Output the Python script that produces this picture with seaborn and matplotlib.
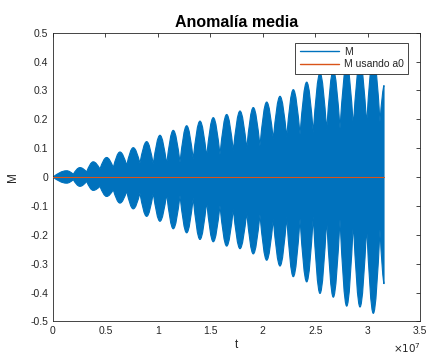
import numpy as np
import pandas as pd
import matplotlib
matplotlib.use("Agg")
import matplotlib.pyplot as plt
import seaborn as sns
from matplotlib.lines import Line2D
from matplotlib.path import Path
from matplotlib.patches import PathPatch

# ---- data (t in units of 1e7 s) ----
# upper envelope: lobe peaks and necks
peak_t = [0.1306, 0.2574, 0.3842, 0.5119, 0.6387, 0.7655, 0.8932, 1.0200,
          1.1468, 1.2745, 1.4013, 1.5281, 1.6559, 1.7827, 1.9094, 2.0372,
          2.1640, 2.2908, 2.4185, 2.5453, 2.6721, 2.7998, 2.9266, 3.0534]
neck_t = [0.194, 0.321, 0.448, 0.575, 0.703, 0.829, 0.956, 1.084,
          1.211, 1.337, 1.465, 1.592, 1.719, 1.847, 1.973, 2.100,
          2.228, 2.355, 2.481, 2.609, 2.736, 2.863, 2.990, 3.117]
upper_peak = [0.022, 0.033, 0.053, 0.068, 0.087, 0.102, 0.123, 0.145,
              0.162, 0.178, 0.194, 0.206, 0.217, 0.229, 0.241, 0.260,
              0.280, 0.303, 0.329, 0.360, 0.370, 0.390, 0.400, 0.420]
upper_neck = [0.010, 0.018, 0.028, 0.033, 0.041, 0.048, 0.045, 0.045,
              0.051, 0.062, 0.071, 0.078, 0.091, 0.099, 0.108, 0.131,
              0.139, 0.148, 0.154, 0.162, 0.169, 0.177, 0.183, 0.192]
lower_peak = [-0.021, -0.032, -0.046, -0.067, -0.090, -0.110, -0.136, -0.153,
              -0.179, -0.193, -0.216, -0.224, -0.239, -0.248, -0.266, -0.288,
              -0.308, -0.345, -0.363, -0.403, -0.416, -0.447, -0.450, -0.472]
lower_neck = [-0.009, -0.015, -0.032, -0.044, -0.049, -0.055, -0.055, -0.058,
              -0.064, -0.072, -0.084, -0.099, -0.110, -0.122, -0.130, -0.145,
              -0.138, -0.145, -0.136, -0.145, -0.147, -0.156, -0.170, -0.182]
t_end = 3.1554
upper_end = 0.317
lower_end = -0.369
a0_t = [0.0, t_end]
a0_M = [0.0, 0.0]


def lobe_path(peaks_t, peaks, necks_t, necks, end_v):
    """Outline through the read necks and peaks: sine-like humps
    (cubic Bezier segments) with cusps at the necks."""
    verts = [(0.0, 0.0)]
    codes = [Path.MOVETO]
    prev_t, prev_v = 0.0, 0.0
    for pt, pv, nt, nv in zip(peaks_t, peaks, necks_t, necks):
        d1 = pt - prev_t
        verts += [(prev_t + 0.326 * d1, prev_v + 0.5236 * (pv - prev_v)),
                  (pt - 0.362 * d1, pv), (pt, pv)]
        codes += [Path.CURVE4] * 3
        d2 = nt - pt
        verts += [(pt + 0.362 * d2, pv),
                  (nt - 0.326 * d2, nv + 0.5236 * (pv - nv)), (nt, nv)]
        codes += [Path.CURVE4] * 3
        prev_t, prev_v = nt, nv
    d = t_end - prev_t
    verts += [(prev_t + 0.326 * d, prev_v + 0.5236 * (end_v - prev_v)),
              (t_end - 0.2 * d, end_v), (t_end, end_v)]
    codes += [Path.CURVE4] * 3
    return verts, codes


uverts, ucodes = lobe_path(peak_t, upper_peak, neck_t, upper_neck, upper_end)
lverts, lcodes = lobe_path(peak_t, lower_peak, neck_t, lower_neck, lower_end)

# closed outline: upper forward, then lower backward
rev = lverts[::-1]
verts = uverts + [rev[0]]
codes = ucodes + [Path.LINETO]
verts += rev[1:]
codes += [Path.CURVE4] * (len(rev) - 1)
verts.append((0.0, 0.0))
codes.append(Path.CLOSEPOLY)

sns.set_style("white")
plt.rcParams['font.family'] = ['Liberation Sans', 'DejaVu Sans']
plt.rcParams['axes.unicode_minus'] = False

blue = '#0072BD'
orange = '#D95319'
axc = '#262626'

fig = plt.figure(figsize=(4.27, 3.56), dpi=100)
ax = fig.add_axes([0.124, 0.097, 0.860, 0.811])

patch = PathPatch(Path(verts, codes), facecolor=blue, edgecolor=blue,
                  linewidth=0.8, joinstyle='round', zorder=2)
ax.add_patch(patch)

df = pd.DataFrame({'t': a0_t, 'M': a0_M})
sns.lineplot(data=df, x='t', y='M', ax=ax, color=orange, linewidth=0.8,
             zorder=3)

ax.set_xlim(0, 3.5)
ax.set_ylim(-0.5, 0.5)
ax.set_xticks(np.arange(0, 3.51, 0.5))
ax.set_xticklabels(['0', '0.5', '1', '1.5', '2', '2.5', '3', '3.5'])
ax.set_yticks(np.round(np.arange(-0.5, 0.51, 0.1), 1))
ax.set_yticklabels(['-0.5', '-0.4', '-0.3', '-0.2', '-0.1', '0', '0.1',
                    '0.2', '0.3', '0.4', '0.5'])
ax.tick_params(direction='in', length=3, width=0.6, colors=axc,
               labelsize=7.5, top=True, right=True, labelcolor=axc)
for s in ax.spines.values():
    s.set_color(axc)
    s.set_linewidth(0.6)

ax.set_xlabel('t', fontsize=8.5, color=axc, labelpad=2)
ax.set_ylabel('M', fontsize=8.5, color=axc, labelpad=8)
ax.set_title('Anomalía media', fontsize=11.5, fontweight='bold',
             color='black', pad=4)
fig.text(0.985, 0.004, r'$\times10^{7}$', ha='right', va='bottom',
         fontsize=7.5, color=axc)

handles = [Line2D([0], [0], color=blue, lw=1.0),
           Line2D([0], [0], color=orange, lw=1.0)]
leg = ax.legend(handles, ['M', 'M usando a0'], loc='upper right',
                bbox_to_anchor=(0.968, 0.966), borderaxespad=0,
                fontsize=7.5, frameon=True,
                fancybox=False, framealpha=1, edgecolor=axc,
                handlelength=3.8, borderpad=0.4, labelspacing=0.25,
                handletextpad=0.5)
leg.get_frame().set_linewidth(0.6)

fig.savefig('out.png', dpi=100)
